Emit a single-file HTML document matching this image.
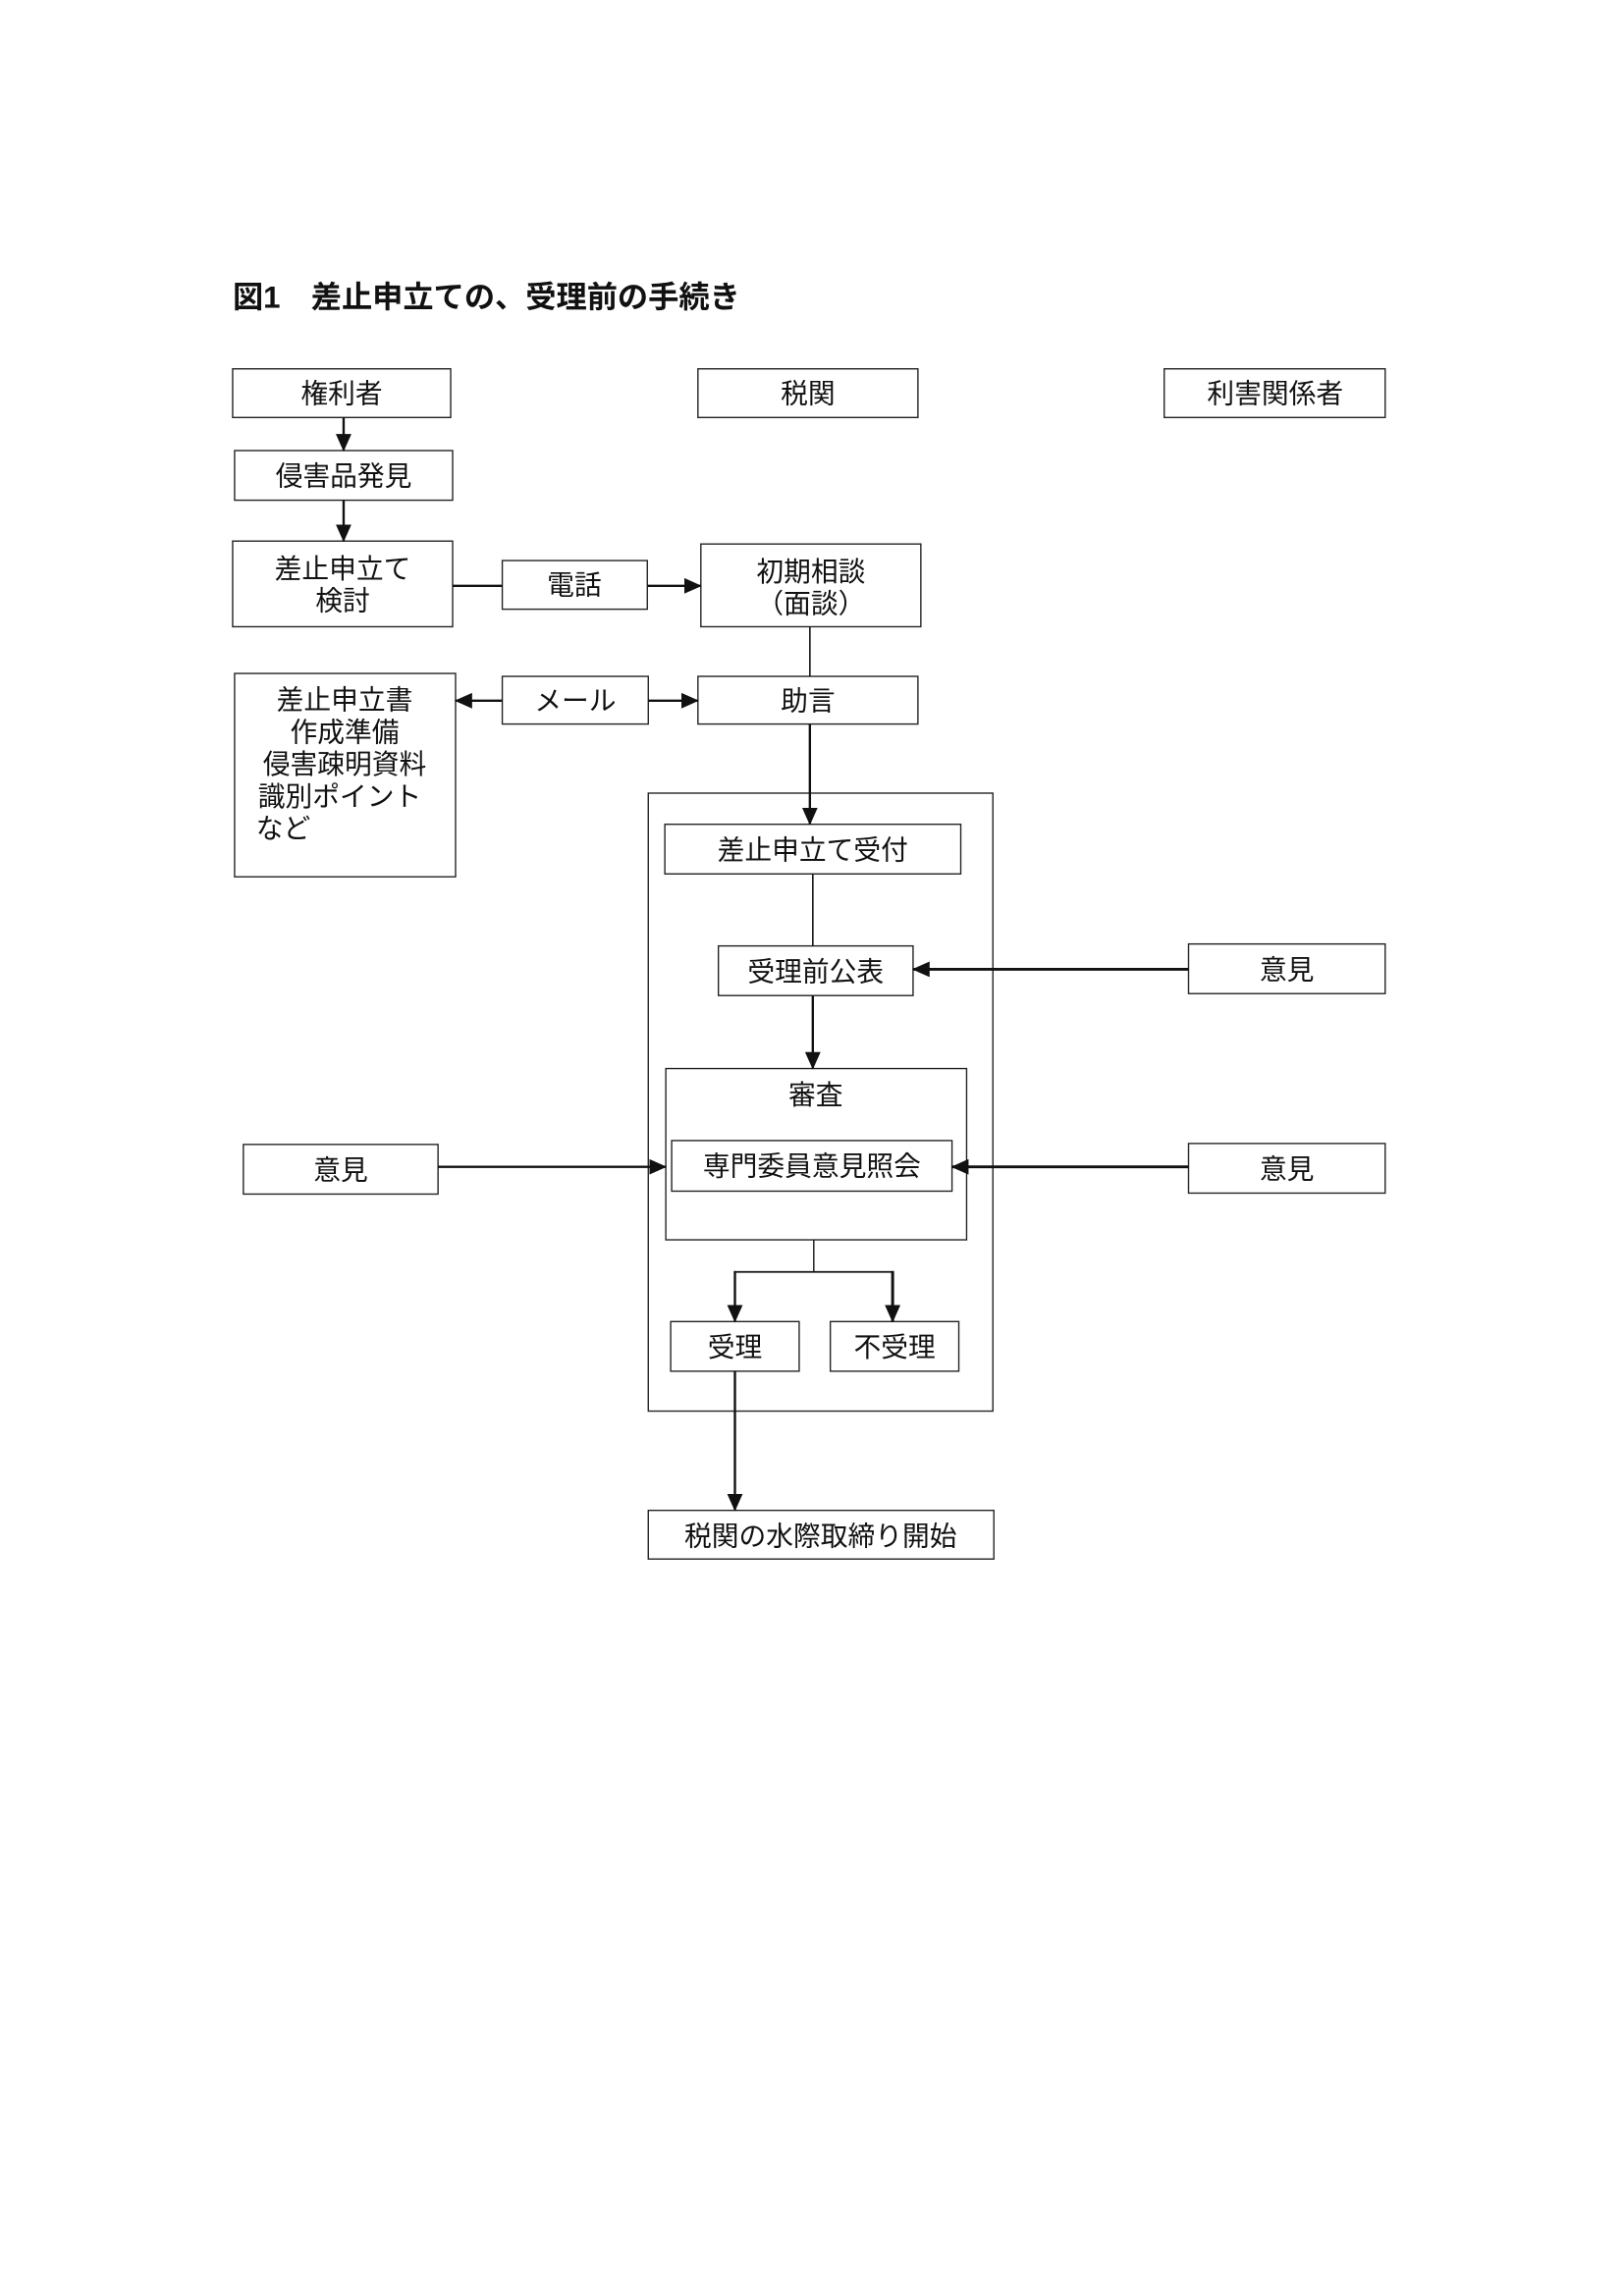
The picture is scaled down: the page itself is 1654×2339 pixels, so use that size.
<!DOCTYPE html>
<html><head><meta charset="utf-8"><style>
html,body{margin:0;padding:0;background:#fff}
svg{display:block}
text{font-family:"Liberation Sans","Noto Sans CJK JP",sans-serif;fill:#111;font-size:28px;text-anchor:middle}
rect{fill:#fff;stroke:#222;stroke-width:1.4}
line{stroke:#111;stroke-width:2.4}
</style></head><body>
<svg width="1654" height="2339" viewBox="0 0 1654 2339" xmlns="http://www.w3.org/2000/svg">
<defs>
<marker id="b" markerWidth="18" markerHeight="18" refX="17" refY="9" orient="auto" markerUnits="userSpaceOnUse" viewBox="0 0 18 18"><path d="M0,1 L18,9 L0,17z" fill="#111"/></marker></defs>
<g transform="scale(0.9914)">
<text x="239" y="316" style="text-anchor:start;font-size:31.5px;font-weight:bold">図1　差止申立ての、受理前の手続き</text>

<rect x="666" y="815" width="354" height="635"/>
<rect x="239" y="379" width="224" height="50"/><text x="351" y="414">権利者</text>
<rect x="717" y="379" width="226" height="50"/><text x="830" y="414">税関</text>
<rect x="1196" y="379" width="227" height="50"/><text x="1310" y="414">利害関係者</text>
<rect x="241" y="463" width="224" height="51"/><text x="353" y="499">侵害品発見</text>
<rect x="239" y="556" width="226" height="88"/><text x="352" y="594">差止申立て</text><text x="352" y="627">検討</text>
<rect x="516" y="576" width="149" height="50"/><text x="590" y="611">電話</text>
<rect x="720" y="559" width="226" height="85"/><text x="833" y="597">初期相談</text><text x="833" y="630">（面談）</text>
<rect x="241" y="692" width="227" height="209"/>
<text x="354" y="729">差止申立書</text><text x="354" y="762">作成準備</text><text x="354" y="795">侵害疎明資料</text><text x="265" y="828" style="text-anchor:start">識別ポイント</text><text x="263" y="861" style="text-anchor:start">など</text>
<rect x="516" y="695" width="150" height="49"/><text x="591" y="730">メール</text>
<rect x="717" y="695" width="226" height="49"/><text x="830" y="730">助言</text>
<rect x="683" y="847" width="304" height="51"/><text x="835" y="883">差止申立て受付</text>
<rect x="738" y="972" width="200" height="51"/><text x="838" y="1008">受理前公表</text>
<rect x="1221" y="970" width="202" height="51"/><text x="1322" y="1006">意見</text>
<rect x="684" y="1098" width="309" height="176"/><text x="838" y="1135">審査</text>
<rect x="690" y="1172" width="288" height="52"/><text x="834" y="1208">専門委員意見照会</text>
<rect x="250" y="1176" width="200" height="51"/><text x="350" y="1212">意見</text>
<rect x="1221" y="1175" width="202" height="51"/><text x="1322" y="1211">意見</text>
<rect x="689" y="1358" width="132" height="51"/><text x="755" y="1394">受理</text>
<rect x="853" y="1358" width="132" height="51"/><text x="919" y="1394">不受理</text>
<rect x="666" y="1552" width="355" height="50"/><text x="843" y="1588">税関の水際取締り開始</text>

<line x1="353" y1="429" x2="353" y2="463" marker-end="url(#b)"/>
<line x1="353" y1="514" x2="353" y2="556" marker-end="url(#b)"/>
<line x1="465" y1="602" x2="516" y2="602"/>
<line x1="665" y1="602" x2="720" y2="602" marker-end="url(#b)"/>
<line x1="832" y1="644" x2="832" y2="695" style="stroke-width:1.6"/>
<line x1="516" y1="720" x2="468" y2="720" marker-end="url(#b)"/>
<line x1="666" y1="720" x2="717" y2="720" marker-end="url(#b)"/>
<line x1="832" y1="744" x2="832" y2="847" marker-end="url(#b)"/>
<line x1="835" y1="898" x2="835" y2="972" style="stroke-width:1.6"/>
<line x1="835" y1="1023" x2="835" y2="1098" marker-end="url(#b)"/>
<line x1="1221" y1="996" x2="938" y2="996" marker-end="url(#b)" style="stroke-width:3"/>
<line x1="450" y1="1199" x2="684" y2="1199" marker-end="url(#b)"/>
<line x1="1221" y1="1199" x2="978" y2="1199" marker-end="url(#b)" style="stroke-width:3"/>
<line x1="836" y1="1274" x2="836" y2="1307" style="stroke-width:1.4"/>
<line x1="755" y1="1307" x2="917" y2="1307" style="stroke-width:1.8"/>
<line x1="755" y1="1306" x2="755" y2="1358" marker-end="url(#b)"/>
<line x1="917" y1="1306" x2="917" y2="1358" marker-end="url(#b)" style="stroke-width:3"/>
<line x1="755" y1="1409" x2="755" y2="1552" marker-end="url(#b)"/>
</g>
</svg>
</body></html>
